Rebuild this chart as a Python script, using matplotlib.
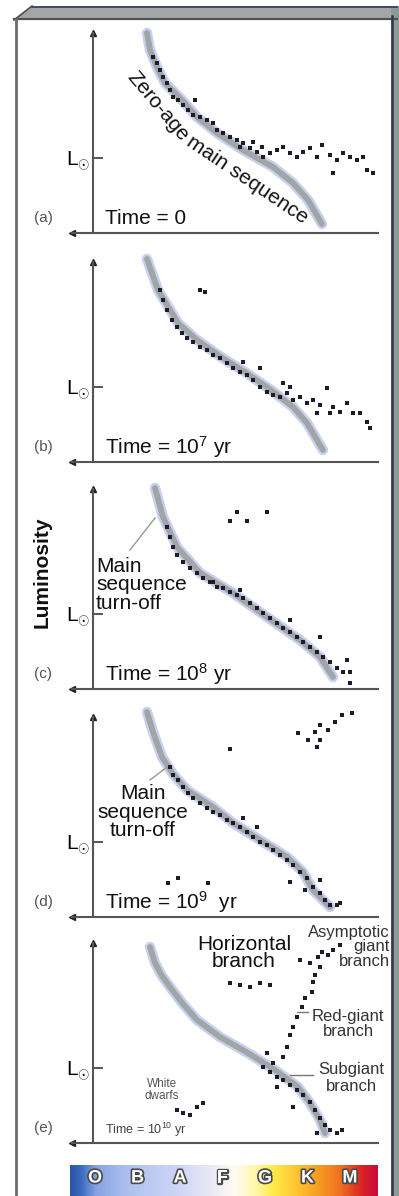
import matplotlib
matplotlib.use('Agg')
import matplotlib.pyplot as plt
import matplotlib.patheffects as pe
import numpy as np
from matplotlib.colors import LinearSegmentedColormap
from matplotlib.patches import Polygon, Rectangle

plt.rcParams['font.family'] = ['Liberation Sans', 'DejaVu Sans']
plt.rcParams['mathtext.fontset'] = 'custom'
plt.rcParams['mathtext.rm'] = 'Liberation Sans'
plt.rcParams['mathtext.it'] = 'Liberation Sans:italic'
plt.rcParams['mathtext.bf'] = 'Liberation Sans:bold'

# x = temperature index (hot -> cool), y = luminosity index
# main-sequence band as drawn in each panel
band_a_x = [54, 57, 64, 72, 89, 104, 124, 150, 180, 200, 215, 225, 229]
band_a_y = [200, 183, 166, 150, 133, 116, 100, 83, 66, 50, 33, 16, 9]
band_b_x = [54, 65, 85, 104, 128, 152, 178, 200, 214, 224, 230]
band_b_y = [203, 172, 139, 122, 105, 90, 72, 55, 39, 22, 12]
band_c_x = [62, 70, 84, 107, 140, 174, 207, 227, 240]
band_c_y = [201, 172, 142, 116, 96, 72, 49, 32, 12]
band_d_x = [54, 60, 69, 80, 94, 120, 140, 167, 194, 210, 220, 237]
band_d_y = [205, 185, 160, 143, 127, 110, 94, 77, 60, 45, 27, 10]
band_e_x = [57, 62, 69, 77, 90, 104, 127, 155, 182, 205, 217, 227, 232]
band_e_y = [196, 180, 167, 156, 139, 123, 106, 90, 73, 56, 40, 23, 10]
lsun_level = 75

# (a) time = 0
a_x = [60, 64, 67, 70, 74, 77, 80, 85, 90, 102, 95, 100, 107, 114, 120, 124, 130, 137, 144, 150,
       157, 164, 170, 147, 160, 169, 177, 184, 190, 197, 204, 210, 217, 224, 229, 237, 244, 250,
       257, 264, 270, 240, 280, 274]
a_y = [176, 170, 163, 156, 150, 143, 136, 133, 128, 133, 123, 118, 116, 113, 110, 103, 100, 96, 93, 90,
       85, 81, 76, 86, 91, 86, 80, 83, 86, 80, 76, 81, 85, 76, 88, 78, 73, 80,
       76, 73, 76, 60, 60, 63]

# (b) time = 1e7 yr
b_x = [67, 70, 74, 79, 84, 89, 94, 100, 107, 114, 120, 127, 134, 140, 147, 154, 160, 167, 174, 180,
       187, 194, 200, 207, 214, 220, 227, 234, 240, 247, 254, 260, 267, 274, 277, 167, 150, 190, 197,
       224, 237, 107, 112]
b_y = [172, 162, 152, 142, 135, 129, 124, 120, 115, 112, 107, 104, 99, 94, 90, 87, 82, 75, 70, 67,
       65, 69, 62, 65, 59, 62, 57, 74, 55, 50, 59, 49, 49, 40, 34, 94, 100, 79, 75,
       49, 49, 172, 170]

# (c) time = 1e8 yr
c_x = [74, 77, 80, 84, 90, 97, 104, 110, 117, 124, 130, 137, 144, 150, 157, 164, 170, 177, 184, 190,
       197, 204, 210, 217, 224, 230, 237, 244, 250, 257, 227, 197, 147, 120, 254,
       144, 137, 154, 174, 257]
c_y = [162, 152, 142, 134, 127, 121, 116, 111, 107, 102, 101, 97, 94, 91, 86, 81, 76, 71, 66, 61,
       57, 52, 47, 42, 37, 32, 27, 21, 17, 17, 52, 69, 99, 107, 29,
       177, 168, 168, 177, 6]

# (d) time = 1e9 yr
d_x = [77, 80, 85, 90, 95, 100, 107, 114, 120, 127, 134, 140, 147, 154, 160, 167, 174, 180, 187, 194,
       200, 207, 214, 220, 227, 232, 237, 244, 247, 150, 164, 197, 212, 227,
       137, 205, 215, 222, 227, 235, 227, 242, 249, 259, 224, 75, 85, 115]
d_y = [150, 142, 137, 130, 124, 119, 114, 109, 105, 102, 97, 94, 90, 85, 80, 75, 72, 67, 62, 57,
       52, 45, 39, 30, 24, 17, 12, 12, 14, 99, 90, 35, 27, 37,
       168, 184, 177, 185, 192, 187, 177, 195, 202, 204, 170, 34, 39, 34]

# (e) time = 1e10 yr: main sequence, giant branches, horizontal branch, white dwarfs
e_x = [170, 177, 184, 190, 197, 204, 210, 217, 222, 227, 232, 237, 244, 249, 224, 200, 184,
       180, 190, 194, 197, 200, 204, 209, 212, 219, 220, 222, 227, 225, 229, 235, 240, 247, 217, 207, 174,
       137, 147, 157, 167, 177,
       84, 90, 104, 110, 97]
e_y = [76, 71, 66, 63, 58, 53, 48, 41, 33, 25, 18, 13, 10, 13, 10, 36, 56,
       80, 86, 96, 108, 116, 126, 136, 145, 151, 161, 168, 176, 186, 191, 188, 193, 198, 180, 183, 90,
       160, 158, 156, 160, 158,
       33, 30, 36, 40, 28]

panel_band_x = [band_a_x, band_b_x, band_c_x, band_d_x, band_e_x]
panel_band_y = [band_a_y, band_b_y, band_c_y, band_d_y, band_e_y]
panel_stars_x = [a_x, b_x, c_x, d_x, e_x]
panel_stars_y = [a_y, b_y, c_y, d_y, e_y]
panel_tags = ['(a)', '(b)', '(c)', '(d)', '(e)']
time_labels = ['Time = 0',
               r'Time = $\mathregular{10^{7}}$ yr',
               r'Time = $\mathregular{10^{8}}$ yr',
               r'Time = $\mathregular{10^{9}}$  yr',
               r'Time = $\mathregular{10^{10}}$ yr']

spectral_classes = ['O', 'B', 'A', 'F', 'G', 'K', 'M']
spec_stop_pos = [-0.59, -0.35, 0.0, 0.6, 1.0, 2.0, 2.7, 3.3, 3.8, 4.2, 4.8, 5.3, 5.8, 6.3, 6.66]
spec_stop_col = ['#2a58a6', '#3a6ac0', '#86a2e2', '#a6bced', '#b4c6f0', '#d0d6f6', '#e8e8f6',
                 '#fffbf2', '#fff6a8', '#ffec48', '#ffc030', '#f59a22', '#ee7020', '#d82424', '#cc0a40']

W, H = 399, 1196
fig = plt.figure(figsize=(W / 100, H / 100), dpi=100)

# outer frame
bg = fig.add_axes([0, 0, 1, 1])
bg.set_xlim(0, W)
bg.set_ylim(H, 0)
bg.axis('off')
bg.add_patch(Polygon([[32, 6], [397, 6], [397, 19], [14, 20]], closed=True,
                     facecolor='#a3a6a4', edgecolor='none'))
bg.plot([32, 397], [6.5, 6.5], color='#36385a', lw=1.2)
bg.plot([14, 397], [19, 19], color='#505252', lw=1.6)
bg.plot([14, 32], [20, 6], color='#505252', lw=1.2)
bg.add_patch(Rectangle((391, 6), 8, H, facecolor='#8c9c94', edgecolor='none'))
bg.plot([392, 392], [16, H], color='#34344c', lw=1.8)
bg.plot([15.5, 15.5], [19, H], color='#6a6a6a', lw=2)

panel_bottom_px = [233, 462, 689, 917, 1143]
axes = []
for i, b in enumerate(panel_bottom_px):
    ax = fig.add_axes([72 / W, 1 - b / H, 306 / W, 200 / H])
    ax.patch.set_visible(False)
    ax.set_xlim(-21, 285)
    ax.set_ylim(0, 200)
    ax.spines['top'].set_visible(False)
    ax.spines['right'].set_visible(False)
    ax.spines['left'].set_position(('data', 0))
    for s in ['left', 'bottom']:
        ax.spines[s].set_color('#555555')
        ax.spines[s].set_linewidth(1.5)
    ax.set_xticks([])
    ax.set_yticks([lsun_level], [r'L$_{\odot}$'])
    ax.tick_params(axis='y', direction='in', length=7, width=1.4, color='#555555',
                   labelsize=15, pad=2)
    ax.plot(panel_band_x[i], panel_band_y[i], color='#c9cff2', lw=7.5, solid_capstyle='round',
            solid_joinstyle='round', clip_on=False, zorder=1)
    ax.plot(panel_band_x[i], panel_band_y[i], color='#a0a6a3', lw=4.2, solid_capstyle='round',
            solid_joinstyle='round', clip_on=False, zorder=1.5)
    ax.scatter(panel_stars_x[i], panel_stars_y[i], s=8, marker='s', color='#1c1c2a',
               linewidths=0, clip_on=False, zorder=3)
    ax.plot([0], [200], marker='^', ms=5, color='#222222', clip_on=False)
    ax.plot([-21], [0], marker='<', ms=5, color='#222222', clip_on=False)
    ax.text(-50, 15, panel_tags[i], ha='center', va='center', fontsize=11,
            color='#555555', clip_on=False)
    if i < 4:
        ax.text(12, 15, time_labels[i], ha='left', va='center', fontsize=15, color='#111111')
    else:
        ax.text(12, 13, time_labels[i], ha='left', va='center', fontsize=9, color='#444444')
    axes.append(ax)

ax_a, ax_b, ax_c, ax_d, ax_e = axes

ax_a.text(65, 127, 'Zero-age', rotation=-50, rotation_mode='anchor', ha='center', va='center',
          fontsize=15, color='#111111')
ax_a.text(154, 53, 'main sequence', rotation=-34, rotation_mode='anchor', ha='center', va='center',
          fontsize=15, color='#111111')

ax_c.plot([37, 62], [139, 171], color='#8fa090', lw=1)
ax_c.text(3, 104, 'Main\nsequence\nturn-off', ha='left', va='center', fontsize=15,
          linespacing=0.95, color='#111111')
ax_d.plot([57, 74], [137, 150], color='#8fa090', lw=1)
ax_d.text(50, 105, 'Main\nsequence\nturn-off', ha='center', va='center', fontsize=15,
          linespacing=0.95, color='#111111')

ax_e.text(151, 190, 'Horizontal\nbranch', ha='center', va='center', fontsize=15,
          linespacing=0.9, color='#111111')
ax_e.text(297, 196, 'Asymptotic\ngiant\nbranch', ha='right', va='center', fontsize=12,
          linespacing=0.95, color='#333333', clip_on=False)
ax_e.text(255, 119, 'Red-giant\nbranch', ha='center', va='center', fontsize=12,
          linespacing=0.95, color='#333333', clip_on=False)
ax_e.plot([204, 215], [131, 131], color='#777777', lw=1)
ax_e.text(258, 65, 'Subgiant\nbranch', ha='center', va='center', fontsize=12,
          linespacing=1.1, color='#333333', clip_on=False)
ax_e.plot([197, 220], [68, 68], color='#777777', lw=1)
ax_e.text(69, 53, 'White\ndwarfs', ha='center', va='center', fontsize=8.5,
          linespacing=0.9, color='#555555')

fig.text(42 / W, 1 - 572 / H, 'Luminosity', rotation=90, ha='center', va='center',
         fontsize=15, fontweight='bold', color='#111111')

# spectral class bar
lo, hi = spec_stop_pos[0], spec_stop_pos[-1]
stops = [((p - lo) / (hi - lo), c) for p, c in zip(spec_stop_pos, spec_stop_col)]
cmap = LinearSegmentedColormap.from_list('spec', stops)
cax = fig.add_axes([70 / W, 0, 308 / W, 31 / H])
grad = np.linspace(lo, hi, 400)[None, :]
cax.imshow(grad, aspect='auto', cmap=cmap, extent=(lo, hi, 0, 1), vmin=lo, vmax=hi)
cax.set_xlim(lo, hi)
cax.set_ylim(0, 1)
cax.axis('off')
for k, letter in enumerate(spectral_classes):
    cax.text(k, 0.58, letter, ha='center', va='center', fontsize=13, fontweight='bold',
             color='white', path_effects=[pe.withStroke(linewidth=2.4, foreground='#4a4a4a')])

fig.savefig('out.png', dpi=100)
